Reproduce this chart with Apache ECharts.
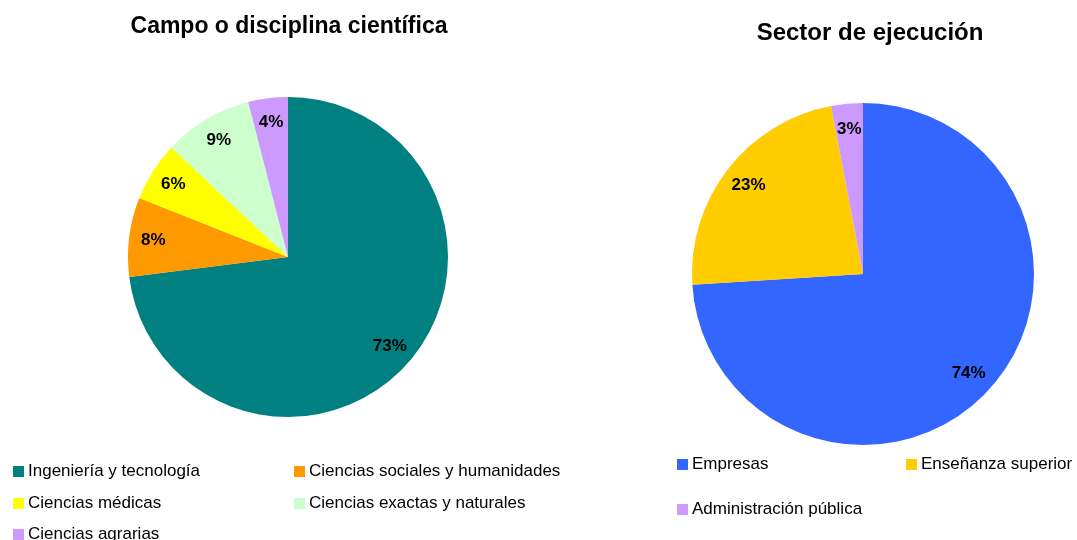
<!DOCTYPE html>
<html>
<head>
<meta charset="utf-8">
<script src="https://cdn.jsdelivr.net/npm/echarts@6/dist/echarts.min.js"></script>
<style>
  html, body { margin: 0; padding: 0; background: #fff; }
  #chart { width: 1077px; height: 540px; }
</style>
</head>
<body>
<div id="chart"></div>
<script>
// campo o disciplina
const campoNames = ['Ingeniería y tecnología', 'Ciencias sociales y humanidades', 'Ciencias médicas', 'Ciencias exactas y naturales', 'Ciencias agrarias']
const campoValues = [73, 8, 6, 9, 4]
const campoColors = ['#008080', '#FF9900', '#FFFF00', '#CCFFCC', '#CC99FF']

// sector de ejecucion
const sectorNames = ['Empresas', 'Enseñanza superior', 'Administración pública']
const sectorValues = [74, 23, 3]
const sectorColors = ['#3366FF', '#FFCC00', '#CC99FF']

const font = 'Liberation Sans, Arial, sans-serif'

function pieData(names, values, colors) {
    return names.map((n, i) => ({ name: n, value: values[i], itemStyle: { color: colors[i] } }))
}

// pie visible + pie transparente solo para poner las etiquetas mas hacia el borde
function pieSeries(names, values, colors, center, r) {
    return [
        {
            type: 'pie',
            center: center,
            radius: [0, r],
            startAngle: 90,
            label: { show: false },
            labelLine: { show: false },
            emphasis: { disabled: true },
            itemStyle: { borderWidth: 0 },
            data: pieData(names, values, colors)
        },
        {
            type: 'pie',
            center: center,
            radius: [r * 0.66, r],
            startAngle: 90,
            silent: true,
            emphasis: { disabled: true },
            itemStyle: { color: 'rgba(0,0,0,0)', borderWidth: 0 },
            label: {
                show: true,
                position: 'inside',
                formatter: '{c}%',
                color: '#000',
                fontWeight: 'bold',
                fontSize: 17,
                fontFamily: font
            },
            labelLine: { show: false },
            data: names.map((n, i) => ({ name: n, value: values[i] }))
        }
    ]
}

function legendCol(items, left, top, gap, colors, names) {
    return {
        orient: 'vertical',
        left: left,
        top: top,
        padding: 0,
        itemGap: gap,
        itemWidth: 11,
        itemHeight: 11,
        icon: 'rect',
        selectedMode: false,
        textStyle: { fontSize: 17, color: '#000', fontFamily: font, padding: [0, 0, 0, -1] },
        data: items.map(n => ({ name: n, itemStyle: { color: colors[names.indexOf(n)] } }))
    }
}

const chart = echarts.init(document.getElementById('chart'))
chart.setOption({
    animation: false,
    backgroundColor: '#fff',
    title: [
        {
            text: 'Campo o disciplina científica',
            left: 289, top: 15, textAlign: 'center', padding: 0,
            textStyle: { fontSize: 23, fontWeight: 'bold', color: '#000', fontFamily: font }
        },
        {
            text: 'Sector de ejecución',
            left: 870, top: 21, textAlign: 'center', padding: 0,
            textStyle: { fontSize: 24, fontWeight: 'bold', color: '#000', fontFamily: font }
        }
    ],
    legend: [
        legendCol([campoNames[0], campoNames[2]], 13, 463, 15, campoColors, campoNames),
        legendCol([campoNames[4]], 13, 526, 15, campoColors, campoNames),
        legendCol([campoNames[1], campoNames[3]], 294, 463, 15, campoColors, campoNames),
        legendCol([sectorNames[0], sectorNames[2]], 677, 456, 28, sectorColors, sectorNames),
        legendCol([sectorNames[1]], 906, 456, 28, sectorColors, sectorNames)
    ],
    series: [
        ...pieSeries(campoNames, campoValues, campoColors, [288, 257], 160),
        ...pieSeries(sectorNames, sectorValues, sectorColors, [863, 274], 171)
    ]
})
</script>
</body>
</html>
